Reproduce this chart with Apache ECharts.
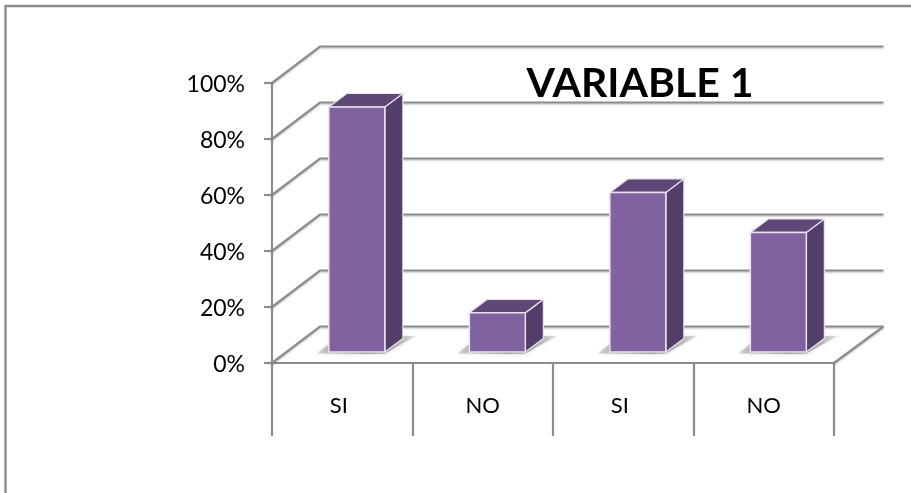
<!DOCTYPE html>
<html>
<head>
<meta charset="utf-8">
<style>html,body{margin:0;padding:0;background:#fff}#c{width:911px;height:493px}</style>
<script src="https://cdn.jsdelivr.net/npm/echarts@6/dist/echarts.min.js"></script>
</head>
<body>
<div id="c"></div>
<script>
var categories = ['SI', 'NO', 'SI', 'NO'];
var values = [87.5, 14, 57, 42.7];
var yTicks = [0, 20, 40, 60, 80, 100];
var titleText = 'VARIABLE 1';

var AXIS = '#8c8c8c', FF = 'Lato, Carlito, sans-serif';
var DX = 48, DY = 36.5;          // depth of the floor
var RIGHT_EXT = 1.5;
var BAR_W = 56;                  // bar front width
var BAR_DX = 18, BAR_DY = 13.5;  // bar depth
var INSET_DX = 14.6, INSET_DY = 11; // bar front plane behind chart front

var chart = echarts.init(document.getElementById('c'), null, {renderer: 'canvas'});

function poly(points, style, z) {
  return {type: 'polygon', shape: {points: points}, style: style, z2: z || 0};
}

function renderGrid(params, api) {
  var tick = api.value(0);
  var p = api.coord([0, tick]);
  var band = api.size([1, 0])[0];
  var x0 = p[0] - band / 2, x1 = x0 + band * 4, y = p[1];
  var st = {stroke: AXIS, lineWidth: 2.2, fill: null,
    shadowColor: 'rgba(0,0,0,0.18)', shadowBlur: 1.5, shadowOffsetY: 1.5};
  var kids = [
    {type: 'polyline', shape: {points: [[x0, y], [x0 + DX, y - DY], [x1 + DX + RIGHT_EXT, y - DY]]}, style: st}
  ];
  if (tick === 0) {
    kids.push({type: 'line', shape: {x1: x1, y1: y, x2: x1 + DX + RIGHT_EXT, y2: y - DY}, style: st});
  }
  return {type: 'group', children: kids};
}

function renderBar(params, api) {
  var i = api.value(0), v = api.value(1);
  var top = api.coord([i, v]), base = api.coord([i, 0]);
  var x0 = top[0] - BAR_W / 2 + INSET_DX, x1 = x0 + BAR_W;
  var yt = top[1] - INSET_DY, yb = base[1] - INSET_DY;
  var edge = '#e9e4ef';
  return {type: 'group', children: [
    poly([[x0 - 12, yb + 1.5], [x1, yb + 1.5], [x1 + 31, yb - 16], [x1 + 18, yb - 16], [x0, yb - 8]], {
      fill: new echarts.graphic.LinearGradient(0, 1, 1, 0, [
        {offset: 0, color: 'rgba(150,150,150,0.35)'},
        {offset: 0.5, color: 'rgba(80,80,80,0.85)'},
        {offset: 1, color: 'rgba(170,170,170,0.35)'}
      ]),
      shadowColor: 'rgba(150,150,150,0.6)', shadowBlur: 4
    }),
    poly([[x1, yt], [x1 + BAR_DX, yt - BAR_DY], [x1 + BAR_DX, yb - BAR_DY], [x1, yb]],
      {fill: '#523e68', stroke: edge, lineWidth: 1.2}),
    poly([[x0, yt], [x0 + BAR_DX, yt - BAR_DY], [x1 + BAR_DX, yt - BAR_DY], [x1, yt]],
      {fill: '#5f4877', stroke: edge, lineWidth: 1.2}),
    {type: 'rect', shape: {x: x0, y: yt, width: BAR_W, height: yb - yt},
      style: {fill: '#8162a1', stroke: edge, lineWidth: 1.5}}
  ]};
}

chart.setOption({
  animation: false,
  backgroundColor: '#fff',
  title: {
    text: titleText, left: 635, top: 58, textAlign: 'center',
    textStyle: {fontFamily: FF, fontSize: 41, fontWeight: 'bold', color: '#000'}
  },
  grid: {left: 272, top: 83, width: 562, height: 280},
  xAxis: {
    type: 'category',
    data: categories.map(function (c) {
      return c === 'SI' ? {value: c, textStyle: {padding: [0, 7, 0, 0]}} : c;
    }),
    axisLine: {lineStyle: {color: AXIS, width: 2.2}},
    axisTick: {show: true, length: 73, alignWithLabel: false, lineStyle: {color: AXIS, width: 2.2}},
    axisLabel: {margin: 32, fontFamily: FF, fontSize: 22, color: '#000'},
    splitLine: {show: false}
  },
  yAxis: {
    type: 'value', min: 0, max: 100, interval: 20,
    axisLine: {show: true, lineStyle: {color: AXIS, width: 2.2}},
    axisTick: {show: true, length: 8, lineStyle: {color: AXIS, width: 2.2}},
    axisLabel: {
      margin: 27, color: '#000', formatter: '{a|{value}%}',
      rich: {a: {fontFamily: FF, fontSize: 23, color: '#000', padding: [4, 0, 0, 0]}}
    },
    splitLine: {show: false}
  },
  graphic: [{
    type: 'polyline', z: -1, silent: true,
    shape: {points: [[5.5, 493], [5.5, 6], [911, 6]]},
    style: {stroke: '#8c8c8c', lineWidth: 2.4, fill: null}
  }],
  series: [
    {type: 'custom', coordinateSystem: 'cartesian2d', clip: false, z: 1, silent: true,
     data: yTicks.map(function (t) { return [t]; }), encode: {y: 0}, renderItem: renderGrid},
    {type: 'custom', coordinateSystem: 'cartesian2d', clip: false, z: 3, silent: true,
     data: values.map(function (v, i) { return [i, v]; }), encode: {x: 0, y: 1}, renderItem: renderBar}
  ]
});
</script>
</body>
</html>
